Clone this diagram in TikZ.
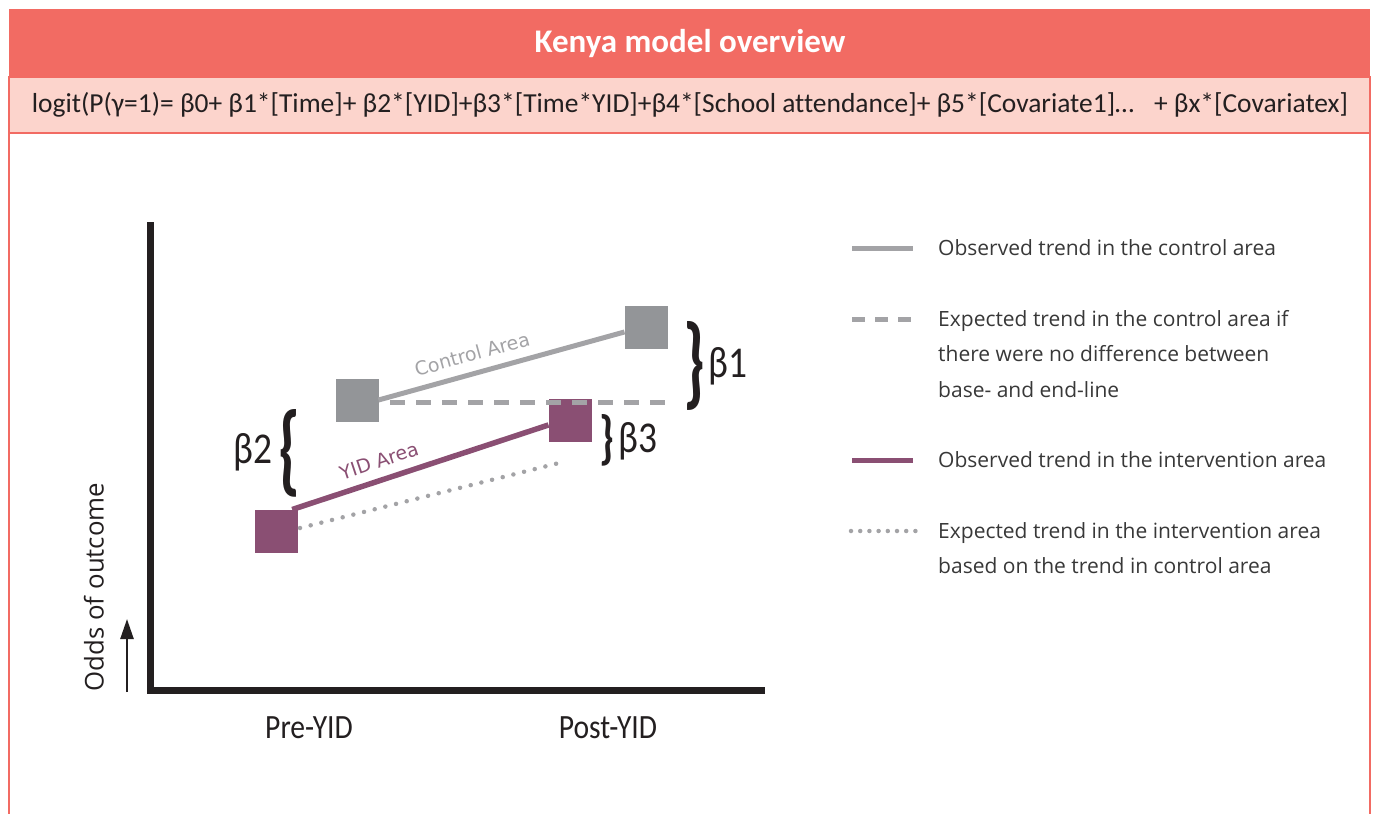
\documentclass[tikz,border=0pt]{standalone}
\usepackage{fontspec}
\setmainfont{Carlito}[Ligatures=NoCommon]
\newfontfamily\legfont{Open Sans}
\newfontfamily\plotfont{DejaVu Sans}
\usetikzlibrary{arrows.meta,calc}
\definecolor{coral}{HTML}{F26B63}
\definecolor{blush}{HTML}{FCD4CC}
\definecolor{ctrlgray}{HTML}{939598}
\definecolor{linegray}{HTML}{A3A3A6}
\definecolor{yidpurple}{HTML}{8A4F73}
\definecolor{axisblack}{HTML}{231F20}
\definecolor{legtext}{HTML}{383838}
\begin{document}
\begin{tikzpicture}[x=1pt,y=-1pt,
  sq/.style={rectangle, minimum size=43pt, inner sep=0pt, outer sep=0pt},
  ctrlsq/.style={sq, fill=ctrlgray},
  yidsq/.style={sq, fill=yidpurple},
  ctrlline/.style={draw=linegray, line width=5pt},
  ctrldash/.style={draw=linegray, line width=5pt, dash pattern=on 15pt off 11pt},
  yidline/.style={draw=yidpurple, line width=5.5pt},
  yiddot/.style={draw=linegray, line width=4.5pt, line cap=round, dash pattern=on 0pt off 11pt},
  legdash/.style={draw=linegray, line width=5pt, dash pattern=on 13pt off 10pt},
  legdot/.style={draw=linegray, line width=4.5pt, line cap=round, dash pattern=on 0pt off 9.2pt},
  legtxt/.style={anchor=west, align=left, text=legtext, inner sep=0pt,
    font=\legfont\fontsize{21}{35.5}\selectfont},
  betalbl/.style={font=\fontsize{44}{48}\selectfont, text=axisblack, inner sep=0pt, xscale=0.85},
  bracelbl/.style={font=\bfseries\fontsize{60}{60}\selectfont, text=axisblack, inner sep=0pt},
  arealbl/.style={font=\plotfont\fontsize{19}{22}\selectfont, inner sep=0pt},
  ticklbl/.style={font=\fontsize{34}{38}\selectfont, text=axisblack, inner sep=0pt, xscale=0.87},
  axisline/.style={draw=axisblack, line width=7pt},
]
\useasboundingbox (0,0) rectangle (1375,814);

% header, formula band and frame
\fill[coral] (9,9) rectangle (1370,77);
\draw[coral, line width=2pt, fill=blush] (9,77) rectangle (1370,133);
\draw[coral, line width=2pt] (9,133) -- (9,814);
\draw[coral, line width=2pt] (1370,133) -- (1370,814);
\node[font=\bfseries\fontsize{33}{38}\selectfont, text=white] (title) at (690,44) {Kenya model overview};
\node[text=axisblack, inner sep=0pt] (formula) at (690,105)
  {\resizebox{1316pt}{!}{\fontsize{24}{28}\selectfont logit(P(γ=1)= β0+ β1*[Time]+ β2*[YID]+β3*[Time*YID]+β4*[School attendance]+ β5*[Covariate1]…\enspace{} + βx*[Covariatex]}};

% axes
\coordinate (ytop) at (150,222);
\coordinate (orig) at (150,690);
\coordinate (xend) at (765,690);
\draw[axisline] (ytop) -- (orig) -- (xend);
\coordinate (arrbot) at (127,692);
\coordinate (arrtop) at (127,619);
\draw[axisblack, line width=2.5pt, -{Triangle[length=20pt,width=13pt]}] (arrbot) -- (arrtop);
\node[rotate=90, font=\legfont\fontsize{25.8}{30}\selectfont, text=axisblack, inner sep=0pt] (odds) at (94,587) {Odds of outcome};
\node[ticklbl] (pre) at (309,728) {Pre-YID};
\node[ticklbl] (post) at (608,728) {Post-YID};

% data points
\node[ctrlsq] (cpre) at (357,400) {};
\node[ctrlsq] (cpost) at (646,327) {};
\node[yidsq] (ipre) at (276,531) {};
\node[yidsq] (ipost) at (570,420) {};

% trends
\draw[ctrlline] (cpre.east) -- (cpost.193);
\draw[yidline] (ipre.53) -- (ipost.193);
\coordinate (dashstart) at (390,402);
\coordinate (dashend) at (667,402);
\draw[ctrldash] (dashstart) -- (dashend);
\coordinate (dotstart) at (300,528);
\coordinate (dotend) at (563,462);
\draw[yiddot] (dotstart) -- (dotend);

\node[arealbl, text=linegray, rotate=15.4] (ctrlname) at (472,354) {Control Area};
\node[arealbl, text=yidpurple, rotate=18.4] (yidname) at (379,461) {YID Area};

% effect braces
\node[bracelbl] (b2brace) at (289,453) {\resizebox{22pt}{73pt}{\textbraceleft}};
\node[betalbl] (b2) at (253,452) {β2};
\node[bracelbl] (b1brace) at (694,366) {\resizebox{22pt}{74pt}{\textbraceright}};
\node[betalbl] (b1) at (728,366) {β1};
\node[bracelbl] (b3brace) at (607,440) {\resizebox{15pt}{43pt}{\textbraceright}};
\node[betalbl] (b3) at (638,441) {β3};

% legend
\coordinate (l1a) at (852,248); \coordinate (l1b) at (913,248);
\draw[ctrlline] (l1a) -- (l1b);
\node[legtxt] (leg1) at (938,248) {Observed trend in the control area};
\coordinate (l2a) at (852,319); \coordinate (l2b) at (913,319);
\draw[legdash] (l2a) -- (l2b);
\node[legtxt] (leg2) at (938,354) {Expected trend in the control area if\\there were no difference between\\base- and end-line};
\coordinate (l3a) at (852,460); \coordinate (l3b) at (913,460);
\draw[yidline, line width=5pt] (l3a) -- (l3b);
\node[legtxt] (leg3) at (938,460) {Observed trend in the intervention area};
\coordinate (l4a) at (851,531); \coordinate (l4b) at (916,531);
\draw[legdot] (l4a) -- (l4b);
\node[legtxt] (leg4) at (938,548) {Expected trend in the intervention area\\based on the trend in control area};
\end{tikzpicture}
\end{document}
